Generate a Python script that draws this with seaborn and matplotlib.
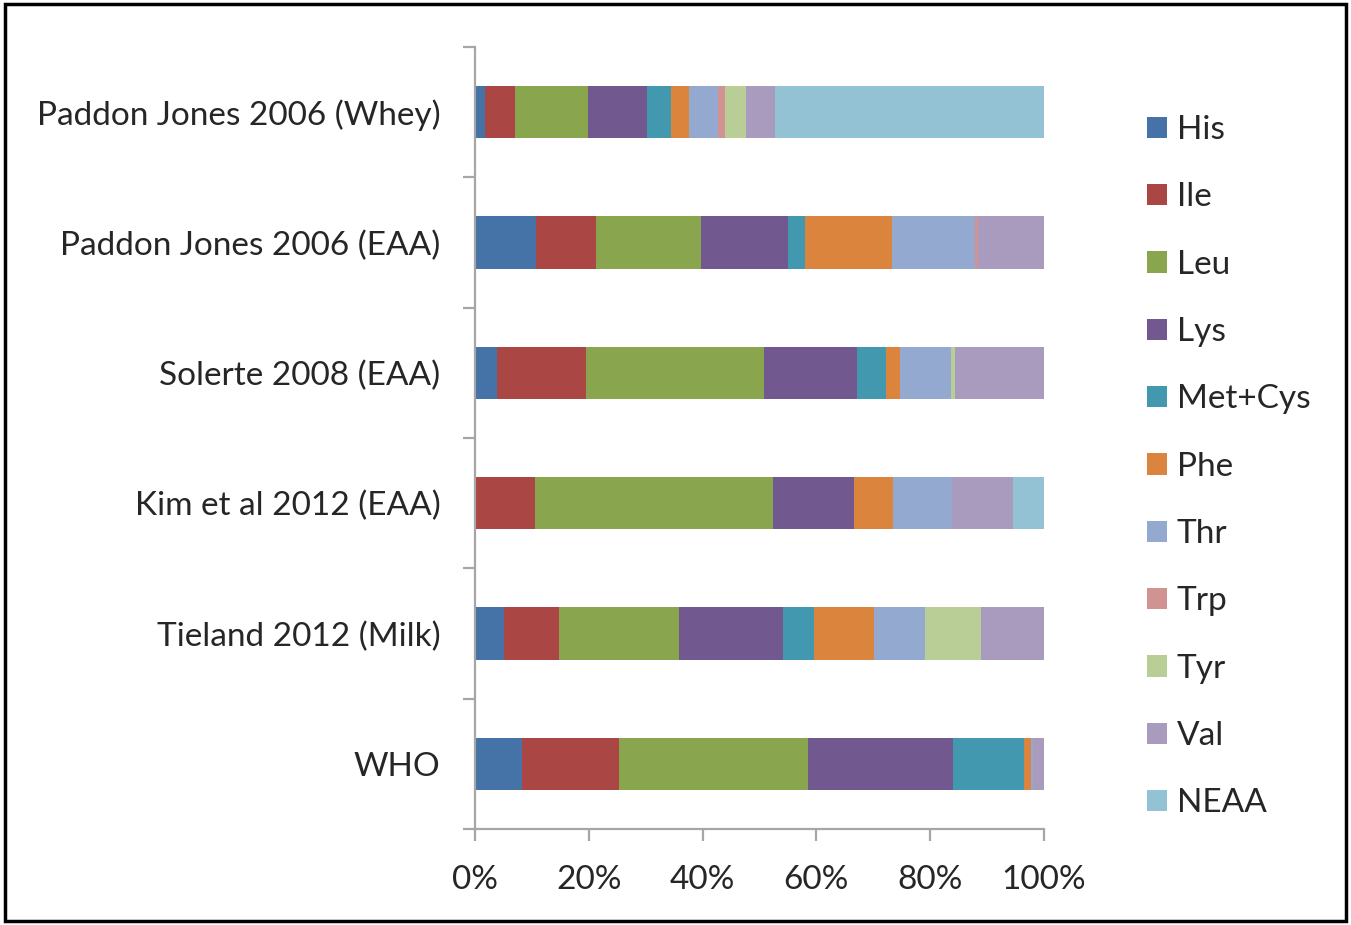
import matplotlib
matplotlib.use("Agg")
import matplotlib.pyplot as plt
import seaborn as sns
import pandas as pd
import numpy as np
from matplotlib.patches import Patch, Rectangle
from matplotlib.ticker import FixedLocator, PercentFormatter

studies = ["Paddon Jones 2006 (Whey)", "Paddon Jones 2006 (EAA)", "Solerte 2008 (EAA)",
           "Kim et al 2012 (EAA)", "Tieland 2012 (Milk)", "WHO"]
components = ["His", "Ile", "Leu", "Lys", "Met+Cys", "Phe", "Thr", "Trp", "Tyr", "Val", "NEAA"]

his    = [1.8, 10.8, 3.8, 0.0, 5.0, 8.3]
ile    = [5.2, 10.4, 15.7, 10.5, 9.8, 16.9]
leu    = [12.9, 18.5, 31.3, 41.9, 21.0, 33.3]
lys    = [10.2, 15.3, 16.4, 14.1, 18.2, 25.4]
metcys = [4.2, 3.1, 5.0, 0.0, 5.5, 12.4]
phe    = [3.3, 15.3, 2.5, 6.9, 10.5, 1.3]
thr    = [5.0, 14.6, 8.9, 10.4, 8.9, 0.3]
trp    = [1.3, 0.5, 0.0, 0.0, 0.0, 0.0]
tyr    = [3.6, 0.0, 0.7, 0.0, 9.9, 0.0]
val    = [5.2, 11.6, 15.7, 10.6, 11.0, 2.0]
neaa   = [47.1, 0.0, 0.0, 5.5, 0.0, 0.0]

colors = ["#4572A7", "#AA4643", "#89A54E", "#71588F", "#4198AF", "#DB843D",
          "#93A9CF", "#D19392", "#B9CD96", "#A99BBD", "#92C2D3"]

series = [his, ile, leu, lys, metcys, phe, thr, trp, tyr, val, neaa]
df = pd.DataFrame(dict(zip(components, series)), index=studies)
pct = df.div(df.sum(axis=1), axis=0) * 100
cum = pct.cumsum(axis=1)

sns.set_style("white")
plt.rcParams['font.family'] = ['Lato', 'DejaVu Sans']

fig = plt.figure(figsize=(13.51, 9.25), dpi=100)
ax = fig.add_axes([0.3516, 0.1038, 0.4212, 0.8454])

for comp, col in reversed(list(zip(components, colors))):
    d = pd.DataFrame({"study": studies, "value": cum[comp].values})
    sns.barplot(data=d, x="value", y="study", order=studies, color=col,
                orient="h", width=0.4, ax=ax, saturation=1, edgecolor="none")

ax.set_xlim(0, 100)
ax.set_ylim(5.5, -0.5)
ax.set_xlabel("")
ax.set_ylabel("")
ax.xaxis.set_major_locator(FixedLocator([0, 20, 40, 60, 80, 100]))
ax.xaxis.set_major_formatter(PercentFormatter(decimals=0))
ax.yaxis.set_minor_locator(FixedLocator(np.arange(-0.5, 6, 1.0)))

grey = "#A6A6A6"
for s in ["top", "right"]:
    ax.spines[s].set_visible(False)
for s in ["left", "bottom"]:
    ax.spines[s].set_color(grey)
    ax.spines[s].set_linewidth(1.6)

fs = 24
ax.tick_params(axis="y", which="major", length=0, pad=25, labelsize=fs)
ax.tick_params(axis="y", which="minor", length=8.6, width=1.6, color=grey, left=True)
ax.tick_params(axis="x", which="major", length=8.6, width=1.6, color=grey, bottom=True,
               pad=17, labelsize=fs)

handles = [Patch(facecolor=c, edgecolor="none", label=l) for l, c in zip(components, colors)]
fig.legend(handles=handles, loc="upper left", bbox_to_anchor=(0.839, 0.890),
           frameon=False, fontsize=fs, labelspacing=1.12, handlelength=0.6,
           handleheight=0.6, handletextpad=0.3, borderaxespad=0)

fig.patches.append(Rectangle((0.004, 0.004), 0.992, 0.992, transform=fig.transFigure,
                             fill=False, edgecolor="black", linewidth=2.5))

fig.savefig("out.png", dpi=100)
